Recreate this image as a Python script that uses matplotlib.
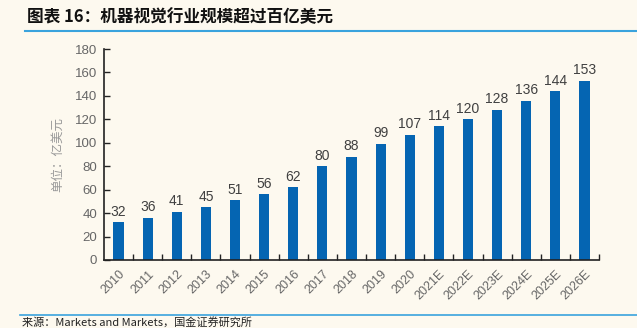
import matplotlib
matplotlib.use("Agg")
import matplotlib.pyplot as plt
from matplotlib.ticker import FixedLocator, NullFormatter
from matplotlib.lines import Line2D

plt.rcParams['font.family'] = ['Liberation Sans', 'Noto Sans CJK SC', 'DejaVu Sans']

years = ['2010', '2011', '2012', '2013', '2014', '2015', '2016', '2017', '2018', '2019',
         '2020', '2021E', '2022E', '2023E', '2024E', '2025E', '2026E']
values = [32, 36, 41, 45, 51, 56, 62, 80, 88, 99, 107, 114, 120, 128, 136, 144, 153]
yticks = [0, 20, 40, 60, 80, 100, 120, 140, 160, 180]

title = '图表 16：机器视觉行业规模超过百亿美元'
source = '来源：Markets and Markets，国金证券研究所'
ylabel = '单位：亿美元'

bg = '#FDF9EF'
bar_color = '#0565B2'
line_color = '#3AA3DD'
gray = '#666666'

fig = plt.figure(figsize=(6.37, 3.28), dpi=100, facecolor=bg)
W, H = 637, 328
ax = fig.add_axes([104 / W, 1 - 260 / H, (599 - 104) / W, (260 - 49) / H])
ax.set_facecolor(bg)

x = list(range(len(years)))
ax.bar(x, values, width=0.35, color=bar_color, zorder=2)
for xi, v in zip(x, values):
    ax.text(xi, v + 3, str(v), ha='center', va='bottom', fontsize=10, color='#404040')

ax.set_xlim(-0.5, len(years) - 0.5)
ax.set_ylim(0, 180)
ax.set_yticks(yticks)
ax.set_xticks(x)
ax.set_xticklabels(years, rotation=45, ha='right', rotation_mode='anchor', fontsize=9, color=gray)
ax.tick_params(axis='x', length=0, pad=6)
ax.xaxis.set_minor_locator(FixedLocator([i - 0.5 for i in range(1, len(years) + 1)]))
ax.xaxis.set_minor_formatter(NullFormatter())
ax.tick_params(axis='x', which='minor', direction='in', length=4, width=1, color='#222222')
ax.tick_params(axis='y', direction='in', length=4, width=1, color='#222222', labelsize=9.5, labelcolor=gray, pad=5)

for s in ['top', 'right']:
    ax.spines[s].set_visible(False)
for s in ['left', 'bottom']:
    ax.spines[s].set_color('#222222')
    ax.spines[s].set_linewidth(1.2)

ax.set_ylabel(ylabel, fontsize=9, color='#999999', family=['Noto Sans CJK SC'], labelpad=8)

fig.text(27 / W, 1 - 17 / H, title, fontsize=12, fontweight='bold', style='italic',
         family=['Noto Sans CJK SC'], va='center', ha='left', color='#111111')
fig.add_artist(Line2D([25 / W, 1], [1 - 31 / H, 1 - 31 / H], transform=fig.transFigure,
                      color=line_color, lw=1.5))
fig.add_artist(Line2D([20 / W, 1], [1 - 315 / H, 1 - 315 / H], transform=fig.transFigure,
                      color=line_color, lw=1.2))
fig.text(22 / W, 1 - 322 / H, source, fontsize=8, family=['Noto Sans CJK SC', 'DejaVu Sans'],
         va='center', ha='left', color='#222222')

fig.savefig('out.png', dpi=100, facecolor=bg)
